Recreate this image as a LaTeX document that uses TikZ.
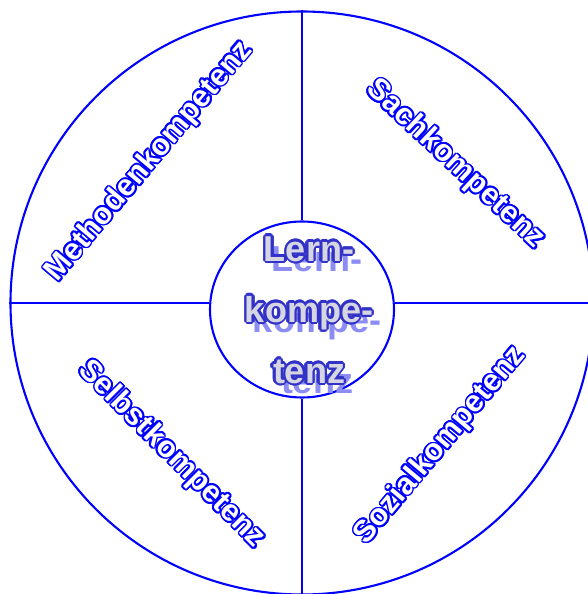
\documentclass[tikz,border=0pt]{standalone}
\usepackage{fontspec}
\setmainfont{Liberation Sans}
\usepackage[copies]{contour}
\usepackage{tikz}
\usetikzlibrary{positioning,shapes.geometric}
\definecolor{RingBlue}{RGB}{0,0,255}
\definecolor{CoreBlue}{RGB}{50,50,200}
\definecolor{CoreFill}{RGB}{214,214,226}
\definecolor{ShadowBlue}{RGB}{140,140,245}
\newcommand\rimword[1]{\contourlength{1.7pt}\contour{RingBlue}{#1}}
\newcommand\coreword[1]{\contourlength{2.4pt}\contour{CoreBlue}{#1}}
\tikzset{
	ring/.style={draw=RingBlue,line width=2.1pt},
	area/.style={text=white,inner sep=0pt,font=\bfseries\fontsize{30.5}{30}\selectfont},
	coretext/.style={align=center,inner sep=0pt,font=\bfseries\fontsize{36}{61}\selectfont},
}

\begin{document}
\begin{tikzpicture}[x=1pt,y=1pt]
	\useasboundingbox (-302,-291) rectangle (286,303);
	\node[ring,circle,minimum size=583pt,inner sep=0pt] (rim) at (0,0) {};
	\node[ring,ellipse,minimum width=184pt,minimum height=176pt,inner sep=0pt] (core) at (0,-6.5) {};
	\draw[ring] (rim.north) -- (core.north);
	\draw[ring] (core.south) -- (rim.south);
	\draw[ring] (rim.west) -- (rim.west -| core.west);
	\draw[ring] (core.east |- rim.east) -- (rim.east);
	% the four fields
	\node[area,rotate=50] (methode) at (-152,141) {\rimword{Methodenkompetenz}};
	\node[area,rotate=-43] (sach) at (153,138) {\rimword{Sachkompetenz}};
	\node[area,rotate=-45] (selbst) at (-131,-152) {\rimword{Selbstkompetenz}};
	\node[area,rotate=50] (sozial) at (139,-143) {\rimword{Sozialkompetenz}};
	% centre with shadow
	\coordinate (mid) at (7,-8);
	\node[coretext,text=ShadowBlue] (lernshadow) at ([shift={(8,-9)}]mid) {Lern-\\kompe-\\tenz};
	\node[coretext,text=CoreFill] (lern) at (mid) {\coreword{Lern-}\\\coreword{kompe-}\\\coreword{tenz}};
\end{tikzpicture}
\end{document}
